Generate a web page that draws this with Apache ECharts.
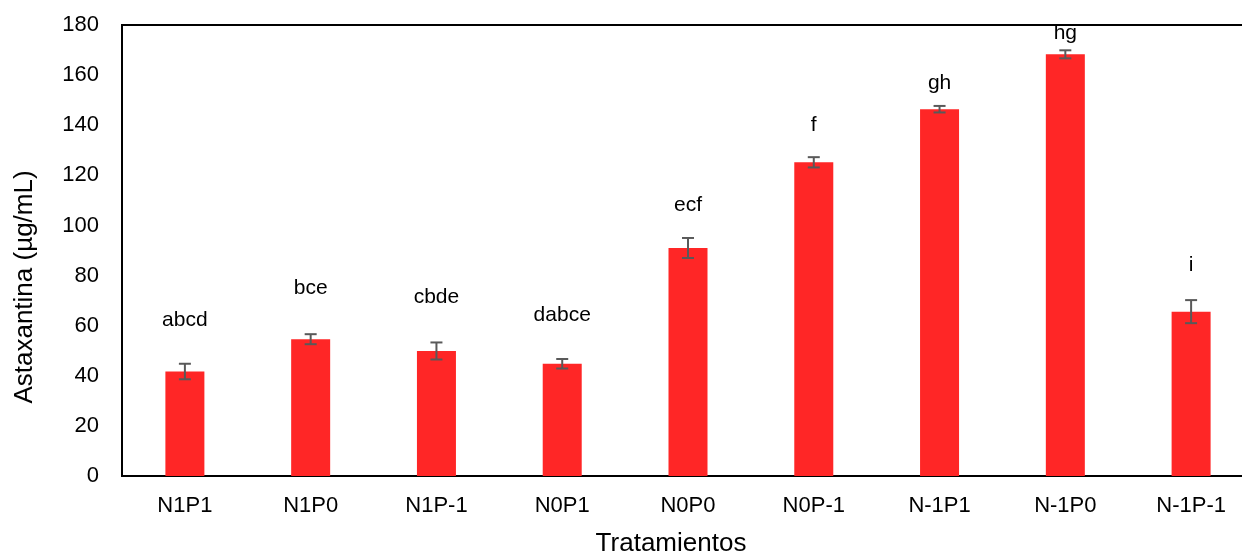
<!DOCTYPE html>
<html><head><meta charset="utf-8">
<script src="https://cdn.jsdelivr.net/npm/echarts@6/dist/echarts.min.js"></script>
<style>html,body{margin:0;padding:0;background:#fff;overflow:hidden}#c{width:1270px;height:555px}</style>
</head><body><div id="c"></div>
<script>
const categories = ['N1P1','N1P0','N1P-1','N0P1','N0P0','N0P-1','N-1P1','N-1P0','N-1P-1'];
const values = [41.7, 54.6, 49.9, 44.8, 91.0, 125.2, 146.4, 168.3, 65.6];
const errors = [3.1, 2.0, 3.4, 1.9, 4.0, 2.05, 1.3, 1.6, 4.6];
const letters = ['abcd','bce','cbde','dabce','ecf','f','gh','hg','i'];
const letterY = [62.0, 74.9, 71.3, 64.3, 108.1, 140.0, 156.6, 176.9, 84.2];
const yTicks = [0,20,40,60,80,100,120,140,160,180];

const chart = echarts.init(document.getElementById('c'));
const font = 'Liberation Sans, Arial, sans-serif';
chart.setOption({
  animation: false,
  grid: {left: 122, width: 1132, top: 25, height: 451, show: true, borderColor: '#000', borderWidth: 2, containLabel: false, outerBoundsMode: 'none'},
  xAxis: {
    type: 'category', data: categories,
    axisLine: {lineStyle: {color: '#000', width: 2}},
    axisTick: {show: false},
    axisLabel: {color: '#000', fontSize: 22, fontFamily: font, margin: 19},
  },
  yAxis: {
    type: 'value', min: 0, max: 180, interval: 20,
    axisLine: {show: true, lineStyle: {color: '#000', width: 2}},
    axisTick: {show: false},
    splitLine: {show: false},
    axisLabel: {color: '#000', fontSize: 22, fontFamily: font, margin: 23,
      formatter: v => yTicks.includes(v) ? String(v) : ''}
  },
  graphic: [
    {type: 'text', x: 671, y: 544, style: {text: 'Tratamientos', font: '26px ' + font, fill: '#000', align: 'center', verticalAlign: 'middle'}},
    {type: 'text', x: 25, y: 287, rotation: Math.PI/2, style: {text: 'Astaxantina (µg/mL)', font: '26px ' + font, fill: '#000', align: 'center', verticalAlign: 'middle'}}
  ],
  series: [
    {type: 'bar', data: values, barWidth: 39, itemStyle: {color: '#FF2626'}, z: 2},
    {type: 'custom', z: 3,
      data: values.map((v, i) => [i, v - errors[i], v + errors[i]]),
      renderItem: (params, api) => {
        const lo = api.coord([api.value(0), api.value(1)]);
        const hi = api.coord([api.value(0), api.value(2)]);
        const w = 6;
        const st = {stroke: '#595959', lineWidth: 2};
        return {type: 'group', children: [
          {type: 'line', shape: {x1: lo[0], y1: lo[1], x2: hi[0], y2: hi[1]}, style: st},
          {type: 'line', shape: {x1: lo[0]-w, y1: lo[1], x2: lo[0]+w, y2: lo[1]}, style: st},
          {type: 'line', shape: {x1: hi[0]-w, y1: hi[1], x2: hi[0]+w, y2: hi[1]}, style: st}
        ]};
      }
    },
    {type: 'custom', z: 4,
      data: letterY.map((y, i) => [i, y]),
      renderItem: (params, api) => {
        const p = api.coord([api.value(0), api.value(1)]);
        return {type: 'text', x: p[0], y: p[1], style: {text: letters[params.dataIndex], font: '21px ' + font, fill: '#000', align: 'center', verticalAlign: 'middle'}};
      }
    }
  ]
});
</script></body></html>
